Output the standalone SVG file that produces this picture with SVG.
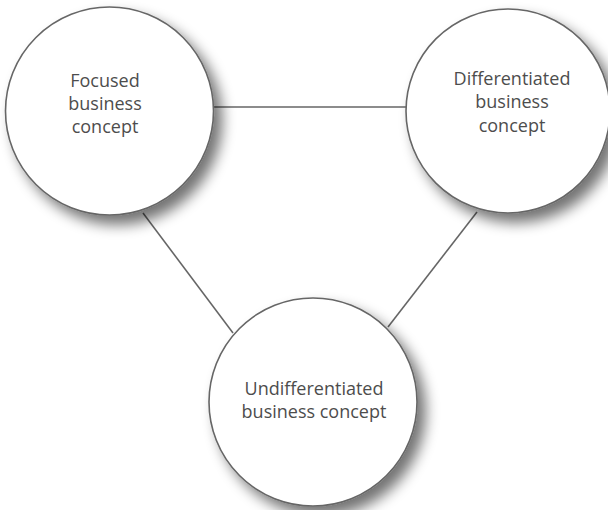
<svg xmlns="http://www.w3.org/2000/svg" width="608" height="510" viewBox="0 0 608 510">
<style>
.node circle{fill:#fff;stroke:#666;stroke-width:1.6;filter:url(#sh)}
.node text{font-family:"Open Sans","Liberation Sans",sans-serif;font-size:18px;fill:#4d4d4d;text-anchor:middle}
#edges line{stroke:#666;stroke-width:1.6}
</style>
<defs>
<filter id="sh" x="-20%" y="-20%" width="150%" height="150%">
<feGaussianBlur in="SourceAlpha" stdDeviation="7"/>
<feOffset dx="8" dy="9" result="b"/>
<feComponentTransfer><feFuncA type="linear" slope="0.55"/></feComponentTransfer>
<feMerge><feMergeNode/><feMergeNode in="SourceGraphic"/></feMerge>
</filter>
</defs>
<rect width="608" height="510" fill="#fff"/>
<g id="edges">
<line x1="213" y1="107" x2="406" y2="107"/>
<line x1="143" y1="213" x2="233" y2="333"/>
<line x1="477" y1="212" x2="388" y2="327"/>
</g>
<g id="focused" class="node">
<circle cx="109.5" cy="111" r="104"/>
<text x="105" y="87">Focused</text>
<text x="105" y="110">business</text>
<text x="105" y="133">concept</text>
</g>
<g id="differentiated" class="node">
<circle cx="508" cy="111" r="102"/>
<text x="512" y="85">Differentiated</text>
<text x="512" y="108">business</text>
<text x="512" y="132">concept</text>
</g>
<g id="undifferentiated" class="node">
<circle cx="313" cy="402" r="104"/>
<text x="314" y="395">Undifferentiated</text>
<text x="314" y="418">business concept</text>
</g>
</svg>
